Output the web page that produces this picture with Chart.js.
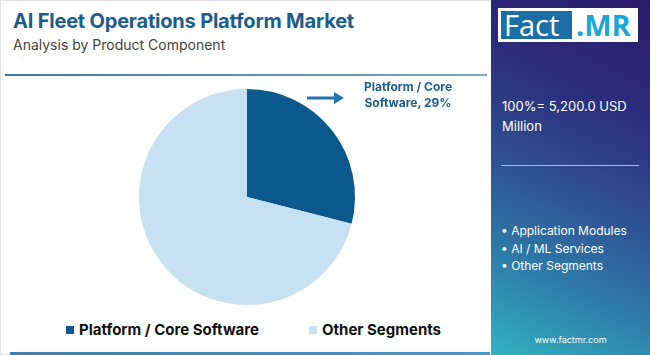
<!DOCTYPE html>
<html>
<head>
<meta charset="utf-8">
<script src="https://cdn.jsdelivr.net/npm/chart.js@4/dist/chart.umd.min.js"></script>
<style>
  html, body { margin: 0; padding: 0; }
  body { width: 650px; height: 355px; position: relative; overflow: hidden; background: #fff; font-family: "Inter", "Open Sans", sans-serif; }
  #left { position: absolute; left: 0; top: 0; width: 489px; height: 353px; border: 1px solid #e2e2e2; border-right: none; background: #fff; }
  #title { position: absolute; left: 13px; top: 9px; font-size: 20px; font-weight: 700; color: #1c5d8c; letter-spacing: -0.2px; white-space: nowrap; }
  #subtitle { position: absolute; left: 13px; top: 36px; font-size: 14px; color: #444; white-space: nowrap; }
  #hr1 { position: absolute; left: 5px; top: 74px; width: 482px; height: 2px; background: linear-gradient(to right, #3f78a8, #5a8fb8, #7fa6c4); }
  #hr2 { position: absolute; left: 10px; top: 352px; width: 480px; height: 3px; background: linear-gradient(to right, #3f7fb0, #4c98c2); }
  #chartBox { position: absolute; left: 0; top: 89px; width: 494px; height: 216px; }
  #legend { position: absolute; top: 320px; left: 0; width: 494px; height: 20px; font-size: 15px; font-weight: 700; color: #111; }
  .li { position: absolute; top: 0; white-space: nowrap; line-height: 20px; }
  .sw { display: inline-block; width: 8px; height: 8px; margin-right: 5px; vertical-align: 1px; }
  #ann { position: absolute; left: 345px; top: 79px; width: 126px; text-align: center; font-size: 12px; font-weight: 700; color: #1c5d8c; line-height: 16px; }
  #arrow { position: absolute; left: 306px; top: 91px; }
  #right { position: absolute; left: 491px; top: 0; width: 159px; height: 355px;
    background: linear-gradient(205deg, #2a1a68 0%, #2c2f7c 30%, #2f4f90 52%, #2e7aa8 75%, #31b2c0 100%); }
  #logo { position: absolute; left: 7px; top: 8px; width: 140px; height: 34px; background: #fff; }
  #logoFact { position: absolute; left: 3px; top: 3px; width: 71px; height: 28px; background: #1b6ea6; color: #fff; font-size: 29px; line-height: 28px; font-family: "Open Sans", sans-serif; padding-left: 3px; box-sizing: border-box; }
  #logoMR { position: absolute; left: 78px; top: 3px; height: 28px; color: #1ca6d8; font-size: 29px; line-height: 28px; font-weight: 700; font-family: "Open Sans", sans-serif; }
  #total { position: absolute; left: 11px; top: 96px; width: 145px; color: #fff; font-size: 13px; line-height: 20px; }
  #hr3 { position: absolute; left: 10px; top: 165px; width: 138px; height: 1px; background: #a9b6e0; }
  #bullets { position: absolute; left: 10px; top: 222px; color: #fff; font-size: 12px; line-height: 17.5px; white-space: nowrap; }
  #web { position: absolute; left: 0; top: 334px; width: 159px; text-align: center; color: #fff; font-size: 9px; }
</style>
</head>
<body>
<div id="left">
</div>
<div id="title">AI Fleet Operations Platform Market</div>
<div id="subtitle">Analysis by Product Component</div>
<div id="hr1"></div>
<div id="chartBox"><canvas id="c"></canvas></div>
<div id="legend"></div>
<svg id="arrow" width="40" height="14"><line x1="1" y1="7" x2="30" y2="7" stroke="#2272ad" stroke-width="3"/><polygon points="28,1 38,7 28,13" fill="#2272ad"/></svg>
<div id="ann">Platform / Core<br>Software, 29%</div>
<div id="hr2"></div>
<div id="right">
  <div id="logo"><div id="logoFact">Fact</div><div id="logoMR">.MR</div></div>
  <div id="total">100%= 5,200.0 USD Million</div>
  <div id="hr3"></div>
  <div id="bullets">• Application Modules<br>• AI / ML Services<br>• Other Segments</div>
  <div id="web">www.factmr.com</div>
</div>
<script>
const categories = ["Platform / Core Software", "Other Segments"];
const shares = [29, 71];
const colors = ["#0b588c", "#c6e1f1"];

const chart = new Chart(document.getElementById("c"), {
  type: "pie",
  data: {
    labels: categories,
    datasets: [{ data: shares, backgroundColor: colors, borderWidth: 0 }]
  },
  options: {
    responsive: true,
    maintainAspectRatio: false,
    animation: false,
    layout: { padding: 0 },
    plugins: {
      tooltip: { enabled: false },
      legend: { display: false }
    }
  }
});

// HTML legend built from the chart's data
const legendX = [66, 309];
const leg = document.getElementById("legend");
chart.data.labels.forEach((lab, i) => {
  const d = document.createElement("div");
  d.className = "li";
  d.style.left = legendX[i] + "px";
  const sw = document.createElement("span");
  sw.className = "sw";
  sw.style.background = chart.data.datasets[0].backgroundColor[i];
  d.appendChild(sw);
  d.appendChild(document.createTextNode(lab));
  leg.appendChild(d);
});
</script>
</body>
</html>
